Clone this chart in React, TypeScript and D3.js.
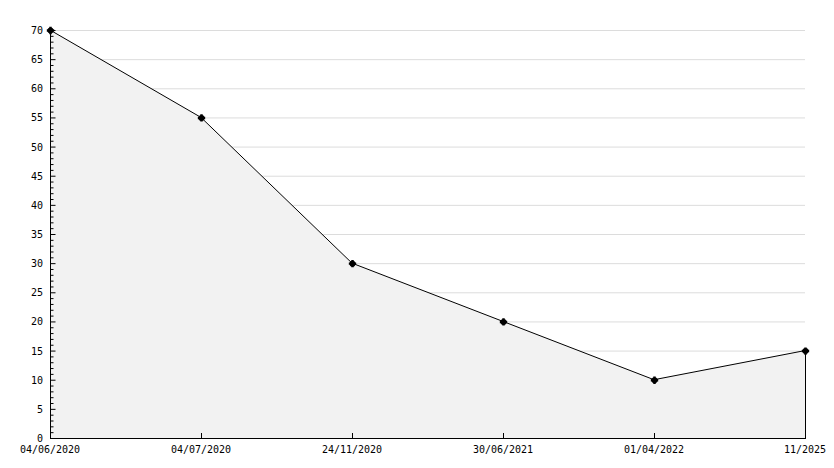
import React from 'react';
import * as d3 from 'd3';

const dates = ['04/06/2020', '04/07/2020', '24/11/2020', '30/06/2021', '01/04/2022', '11/2025'];
const values = [70, 55, 30, 20, 10, 15];
const yMajorTicks = [0, 5, 10, 15, 20, 25, 30, 35, 40, 45, 50, 55, 60, 65, 70];

const W = 834;
const H = 468;
const margin = { left: 50, right: 29, top: 30, bottom: 30 };

export default function App() {
  const x = d3.scalePoint<string>()
    .domain(dates)
    .range([margin.left, W - margin.right]);
  const y = d3.scaleLinear()
    .domain([0, 70])
    .range([H - margin.bottom, margin.top]);

  const pts: [number, number][] = dates.map((d, i) => [x(d) as number, y(values[i])]);
  const line = d3.line()(pts) || '';
  const area = d3.area<[number, number]>()
    .x(p => p[0])
    .y0(y(0))
    .y1(p => p[1])(pts) || '';

  const minor = d3.range(0, 71, 1);
  const font = '"DejaVu Sans Mono", monospace';
  const x0 = margin.left;
  const x1 = W - margin.right;
  const lastX = x(dates[dates.length - 1]) as number;

  return (
    <svg width={W} height={H} style={{ position: 'absolute', left: 0, top: 0, background: '#fff' }}>
      {/* grid */}
      {yMajorTicks.filter(t => t > 0).map(t => (
        <line key={'g' + t} x1={x0} x2={x1} y1={y(t) + 0.5} y2={y(t) + 0.5} stroke="#dcdcdc" />
      ))}
      <path d={area} fill="#f2f2f2" />
      <line x1={lastX + 0.5} x2={lastX + 0.5} y1={y(values[values.length - 1])} y2={y(0)} stroke="#000" />
      <path d={line} fill="none" stroke="#000" strokeWidth={1} />
      {/* axes */}
      <line x1={x0 + 0.5} x2={x0 + 0.5} y1={y(70) - 2} y2={y(0) + 0.5} stroke="#000" />
      <line x1={x0} x2={x1 + 1} y1={y(0) + 0.5} y2={y(0) + 0.5} stroke="#000" />
      {minor.map(t => (
        <line key={'m' + t} x1={x0} x2={x0 + (t % 5 === 0 ? 5.5 : 3.5)} y1={y(t) + 0.5} y2={y(t) + 0.5} stroke="#000" />
      ))}
      {yMajorTicks.map(t => (
        <text key={'l' + t} x={x0 - 7} y={y(t) + 4} textAnchor="end" fontFamily={font} fontSize={10} fill="#000">{t}</text>
      ))}
      {dates.map(d => (
        <g key={d}>
          <line x1={(x(d) as number) + 0.5} x2={(x(d) as number) + 0.5} y1={y(0)} y2={y(0) - 5} stroke="#000" />
          <text x={x(d)} y={y(0) + 15} textAnchor="middle" fontFamily={font} fontSize={10} fill="#000">{d}</text>
        </g>
      ))}
      {pts.map((p, i) => (
        <g key={'p' + i}>
          <circle cx={p[0] + 0.5} cy={p[1] + 0.5} r={3} fill="#000" />
          <path d={d3.symbol(d3.symbolCross, 30)() || ''} transform={`translate(${p[0] + 0.5},${p[1] + 0.5})`} fill="#000" />
        </g>
      ))}
    </svg>
  );
}
